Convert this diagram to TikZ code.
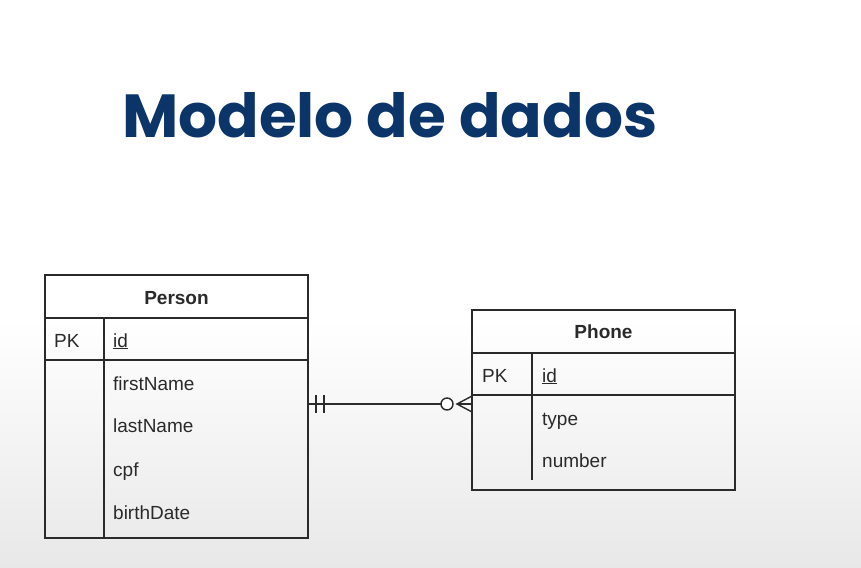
\documentclass[tikz,border=0pt]{standalone}
\usepackage{fontspec}
\setmainfont{Liberation Sans}
\newfontfamily\titlefont{Poppins}
\usetikzlibrary{calc}
\definecolor{titleblue}{HTML}{0B3468}
\definecolor{ink}{HTML}{2A2A2A}
\tikzset{
  entity/.style={draw=ink, line width=1.4pt, inner sep=0pt, outer sep=0pt},
  rule/.style={draw=ink, line width=1.4pt},
  field/.style={anchor=base west, inner sep=0pt, text=ink, font=\fontsize{19pt}{22pt}\selectfont},
  header/.style={anchor=base, inner sep=0pt, text=ink, font=\fontsize{19pt}{22pt}\selectfont\bfseries},
}
\begin{document}
\begin{tikzpicture}[x=1pt,y=-1pt]
  % page background
  \fill[white] (0,0) rectangle (861,567);
  \shade[top color=white, bottom color=black!9] (0,320) rectangle (861,567);
  \useasboundingbox (0,0) rectangle (861,567);

  % title
  \node[anchor=base west, inner sep=0pt, text=titleblue] (title) at (122,137)
    {\resizebox{535pt}{45pt}{\titlefont\bfseries Modelo de dados}};

  % Person entity
  \node[entity, minimum width=263pt, minimum height=263pt] (person) at (176.5,406.5) {};
  \draw[rule] (person.west |- 0,318) -- (person.east |- 0,318);
  \draw[rule] (person.west |- 0,360) -- (person.east |- 0,360);
  \draw[rule] (104,318) -- (person.south -| 104,0);
  \node[header] (personname) at (person.north |- 0,304) {Person};
  \node[field] (personpk) at (54,347) {PK};
  \node[field] (personid) at (113,347) {\underline{id}};
  \node[field] (firstname) at (113,390) {firstName};
  \node[field] (lastname) at (113,432) {lastName};
  \node[field] (cpf) at (113,476) {cpf};
  \node[field] (birthdate) at (113,519) {birthDate};

  % Phone entity
  \node[entity, minimum width=263pt, minimum height=180pt] (phone) at (603.5,400) {};
  \draw[rule] (phone.west |- 0,353) -- (phone.east |- 0,353);
  \draw[rule] (phone.west |- 0,395) -- (phone.east |- 0,395);
  \draw[rule] (532,353) -- (532,480);
  \node[header] (phonename) at (phone.north |- 0,338) {Phone};
  \node[field] (phonepk) at (482,382) {PK};
  \node[field] (phoneid) at (542,382) {\underline{id}};
  \node[field] (phonetype) at (542,425) {type};
  \node[field] (phonenumber) at (542,467) {number};

  % relationship: exactly one Person to zero or many Phones
  \coordinate (relA) at (person.east |- 0,404);
  \coordinate (relB) at (phone.west |- 0,404);
  \coordinate (ring) at ($(relB)+(-25,0)$);
  \coordinate (apex) at ($(relB)+(-15,0)$);
  \draw[rule] (relA) -- (ring);
  \draw[rule] ($(relA)+(8,-9)$) -- ($(relA)+(8,9)$);
  \draw[rule] ($(relA)+(16,-9)$) -- ($(relA)+(16,9)$);
  \draw[rule, fill=white] (ring) circle (6pt);
  \draw[rule] (apex) -- (relB);
  \draw[rule] ($(relB)+(0,-8)$) -- (apex) -- ($(relB)+(0,8)$);
\end{tikzpicture}
\end{document}
